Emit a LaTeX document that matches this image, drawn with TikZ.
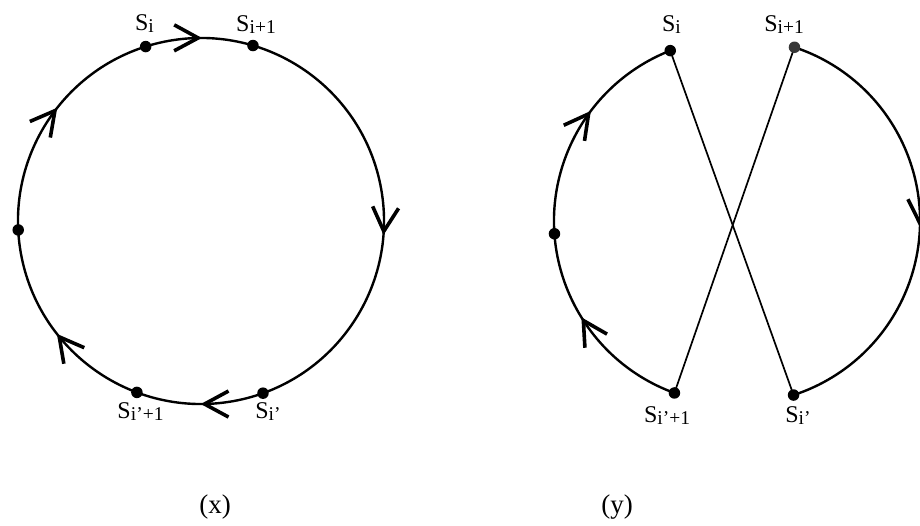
\documentclass[tikz,border=0pt]{standalone}
\usepackage{fontspec}
\setmainfont{Liberation Serif}
\usetikzlibrary{arrows.meta,decorations.markings,calc}
\newcommand{\slbl}[1]{{\fontsize{24}{24}\selectfont S\raisebox{-2pt}{\fontsize{19.5}{19.5}\selectfont #1}}}
\begin{document}
\begin{tikzpicture}[x=1pt,y=1pt,
  dotnode/.style={circle,fill=black,draw=none,inner sep=0pt,minimum size=11.5pt},
  lblnode/.style={anchor=base,inner sep=0pt},
  capnode/.style={anchor=base,inner sep=0pt,font=\fontsize{27}{27}\selectfont},
  curve/.style={line width=2.4pt,draw=black},
  chord/.style={line width=1.7pt,draw=black},
  mybarb/.tip={Straight Barb[length=24pt,width=26pt,line width=3.6pt]},
]
\useasboundingbox (0,0) rectangle (920,525);
\fill[white] (0,0) rectangle (920,525);

% ---------- left figure (x) ----------
\coordinate (CL) at (201,304);
\coordinate (pLsi)   at ($(CL)+(107.6:183)$);
\coordinate (pLsi1)  at ($(CL)+(73.5:183)$);
\coordinate (pLleft) at ($(CL)+(182.8:183)$);
\coordinate (pLsip1) at ($(CL)+(249.5:183)$);
\coordinate (pLsip)  at ($(CL)+(289.8:183)$);
\coordinate (pLtop)  at ($(CL)+(100:183)$);

\draw[curve, postaction={decorate}, decoration={markings,
    mark=at position 0.0286 with {\arrow{mybarb}},
    mark=at position 0.290 with {\arrow{mybarb}},
    mark=at position 0.528 with {\arrow{mybarb}},
    mark=at position 0.672 with {\arrow{mybarb}},
    mark=at position 0.884 with {\arrow{mybarb}}}]
  (pLtop) arc[start angle=100, end angle=-260, radius=183];

\node[dotnode] (Lsi)   at (pLsi) {};
\node[dotnode] (Lsi1)  at (pLsi1) {};
\node[dotnode] (Lleft) at (pLleft) {};
\node[dotnode] (Lsip1) at (pLsip1) {};
\node[dotnode] (Lsip)  at (pLsip) {};

\node[lblnode] (tLsi)   at (144.5,494) {\slbl{i}};
\node[lblnode] (tLsi1)  at (256,493)   {\slbl{i+1}};
\node[lblnode] (tLsip1) at (140.5,107) {\slbl{i'+1}};
\node[lblnode] (tLsip)  at (268,107)   {\slbl{i'}};
\node[capnode] (capx)   at (215,12)    {(x)};

% ---------- right figure (y) ----------
\coordinate (CR) at (737,304);
\coordinate (pRsi)   at ($(CR)+(111.4:183)$);
\coordinate (pRsi1)  at ($(CR)+(71.7:183)$);
\coordinate (pRleft) at ($(CR)+(184:183)$);
\coordinate (pRsip1) at ($(CR)+(250:183)$);
\coordinate (pRsip)  at ($(CR)+(288:183)$);

\draw[curve, postaction={decorate}, decoration={markings,
    mark=at position 0.276 with {\arrow{mybarb}},
    mark=at position 0.772 with {\arrow{mybarb}}}]
  (pRsip1) arc[start angle=250, end angle=111.4, radius=183];
\draw[curve, postaction={decorate}, decoration={markings,
    mark=at position 0.513 with {\arrow{mybarb}}}]
  (pRsi1) arc[start angle=71.7, end angle=-72, radius=183];
\draw[chord] (pRsi) -- (pRsip);
\draw[chord] (pRsi1) -- (pRsip1);

\node[dotnode] (Rsi)   at (pRsi) {};
\node[dotnode,fill=black!78] (Rsi1)  at (pRsi1) {};
\node[dotnode] (Rleft) at (pRleft) {};
\node[dotnode] (Rsip1) at (pRsip1) {};
\node[dotnode] (Rsip)  at (pRsip) {};

\node[lblnode] (tRsi)   at (671.5,493) {\slbl{i}};
\node[lblnode] (tRsi1)  at (784,493)   {\slbl{i+1}};
\node[lblnode] (tRsip1) at (667,103)   {\slbl{i'+1}};
\node[lblnode] (tRsip)  at (798,103)   {\slbl{i'}};
\node[capnode] (capy)   at (617,12)    {(y)};
\end{tikzpicture}
\end{document}
